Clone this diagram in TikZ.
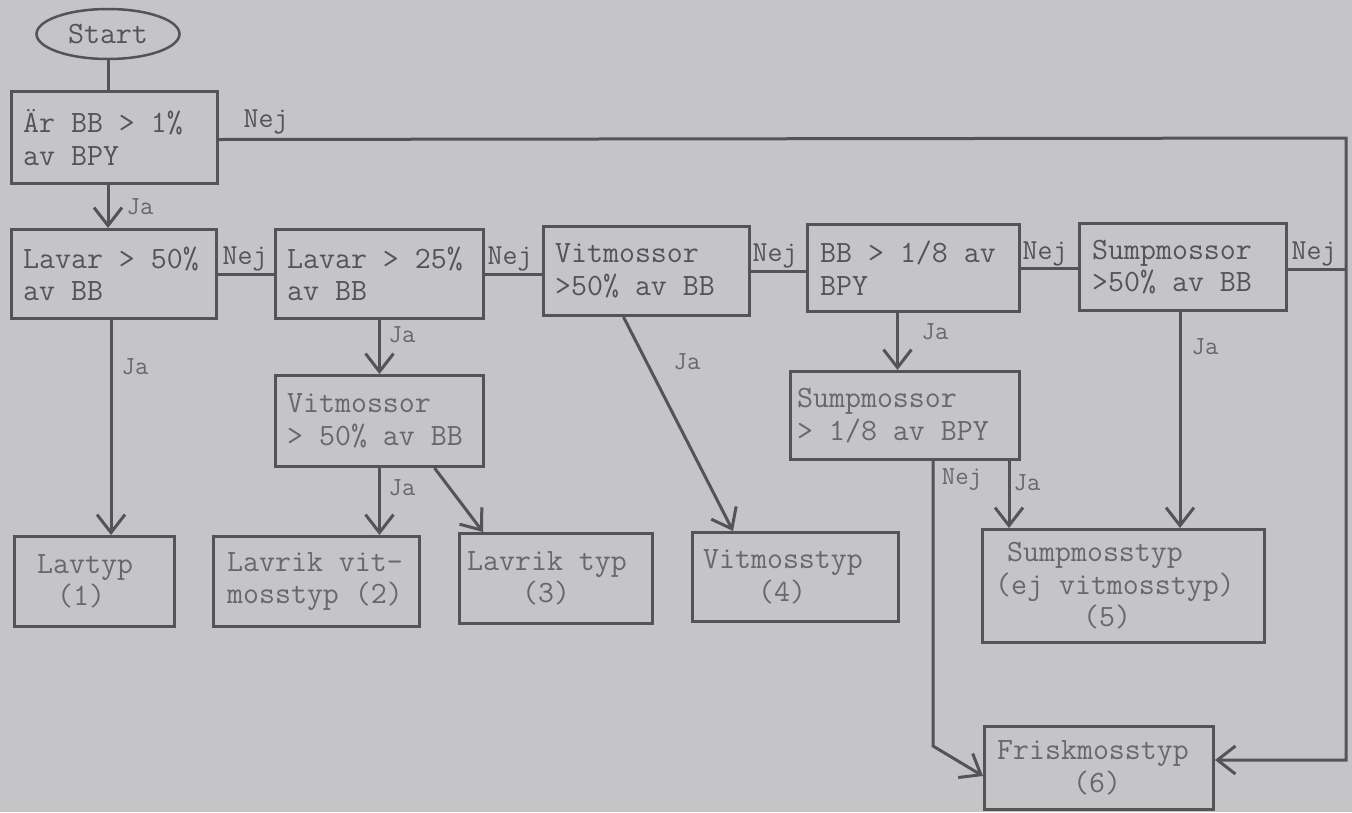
\documentclass[tikz,border=0pt]{standalone}
\usepackage{fontspec}
\usetikzlibrary{arrows.meta,shapes.geometric,calc}
\definecolor{bgc}{RGB}{197,197,199}
\definecolor{ink}{RGB}{84,84,86}
\definecolor{inkl}{RGB}{104,104,106}
\begin{document}
\begin{tikzpicture}[x=1pt,y=-1pt,
  box/.style={draw=ink, line width=3pt, rectangle, inner sep=0pt, anchor=north west},
  txt/.style={text=ink, inner sep=0pt, align=left, font=\ttfamily\fontsize{31}{32.5}\selectfont, anchor=west},
  txtl/.style={txt, text=inkl},
  lbl/.style={text=ink, inner sep=0pt, font=\ttfamily\fontsize{29}{30}\selectfont},
  ja/.style={text=inkl, inner sep=0pt, font=\ttfamily\fontsize{26}{26}\selectfont},
  conn/.style={draw=ink, line width=3pt},
  arr/.style={conn, -{Straight Barb[length=18pt,width=28pt]}}
]
\fill[bgc] (0,0) rectangle (1352,812);
\path[use as bounding box] (0,0) rectangle (1352,812);

\node[draw=ink, line width=2.5pt, ellipse, minimum width=143pt, minimum height=50pt, inner sep=0pt, text=ink, font=\ttfamily\fontsize{31}{32}\selectfont] (start) at (108,34) {Start};

\node[box, minimum width=206pt, minimum height=92pt] (b1) at (10,90) {};
\node[box, minimum width=205pt, minimum height=89pt] (b2) at (10,228) {};
\node[box, minimum width=208pt, minimum height=89pt] (b3) at (274,228) {};
\node[box, minimum width=206pt, minimum height=89pt] (b4) at (542,225) {};
\node[box, minimum width=212pt, minimum height=87pt] (b5) at (806,223) {};
\node[box, minimum width=207pt, minimum height=87pt] (b6) at (1078,222) {};
\node[box, minimum width=208pt, minimum height=91pt] (b7) at (274,374) {};
\node[box, minimum width=229pt, minimum height=88pt] (b8) at (789,370) {};
\node[box, minimum width=160pt, minimum height=90pt] (t1) at (13,535) {};
\node[box, minimum width=206pt, minimum height=90pt] (t2) at (212,535) {};
\node[box, minimum width=193pt, minimum height=90pt] (t3) at (458,532) {};
\node[box, minimum width=206pt, minimum height=89pt] (t4) at (691,531) {};
\node[box, minimum width=282pt, minimum height=113pt] (t5) at (981,528) {};
\node[box, minimum width=229pt, minimum height=83pt] (t6) at (983,725) {};

\node[txt] (b1x) at ([xshift=13pt]b1.west) {Är BB > 1\%\\av BPY};
\node[txt] (b2x) at ([xshift=13pt]b2.west) {Lavar > 50\%\\av BB};
\node[txt] (b3x) at ([xshift=13pt]b3.west) {Lavar > 25\%\\av BB};
\node[txt] (b4x) at ([xshift=13pt]b4.west) {Vitmossor\\>50\% av BB};
\node[txt] (b5x) at ([xshift=14pt]b5.west) {BB > 1/8 av\\BPY};
\node[txt] (b6x) at ([xshift=14pt]b6.west) {Sumpmossor\\>50\% av BB};
\node[txtl] (b7x) at ([xshift=13pt]b7.west) {Vitmossor\\> 50\% av BB};
\node[txtl] (b8x) at ([xshift=8pt]b8.west) {Sumpmossor\\> 1/8 av BPY};
\node[txtl] (t1x) at ([xshift=24pt]t1.west) {Lavtyp\\\hspace*{20pt}(1)};
\node[txtl] (t2x) at ([xshift=15pt]t2.west) {Lavrik vit-\\mosstyp (2)};
\node[txtl] (t3x) at ([xshift=9pt]t3.west) {Lavrik typ\\\hspace*{55pt}(3)};
\node[txtl] (t4x) at ([xshift=12pt]t4.west) {Vitmosstyp\\\hspace*{55pt}(4)};
\node[txtl] (t5x) at ([xshift=14pt]t5.west) {\hspace*{12pt}Sumpmosstyp\\(ej vitmosstyp)\\\hspace*{88pt}(5)};
\node[txtl] (t6x) at ([xshift=14pt]t6.west) {Friskmosstyp\\\hspace*{76pt}(6)};

\coordinate (R) at (1346,138);
\coordinate (t6in) at ([yshift=8pt]t6.east);
\coordinate (t6w) at ([yshift=-8pt]t6.west);

\draw[conn] (start.south) -- (start.south |- b1.north);
\draw[arr] (start.south |- b1.south) -- (start.south |- b2.north);
\node[ja] (j1) at (140,207) {Ja};
\draw[arr] ([yshift=-2pt]b1.east) -- (R) -- (R |- t6in) -- (t6in);
\node[lbl] (n1) at (266,122) {Nej};

\draw[conn] (b2.east) -- (b3.west);
\node[lbl] (n2) at (245,259) {Nej};
\draw[conn] (b3.east) -- (b3.east -| b4.west);
\node[lbl] (n3) at (510,259) {Nej};
\draw[conn] (b4.east) -- (b4.east -| b5.west);
\node[lbl] (n4) at (775,256) {Nej};
\draw[conn] (b5.east) -- (b5.east -| b6.west);
\node[lbl] (n5) at (1045,254) {Nej};
\draw[conn] ([yshift=-2pt]b6.east) -- ([yshift=-2pt]b6.east -| R);
\node[lbl] (n6) at (1314,254) {Nej};

\draw[arr] ([xshift=-3pt]b2.south) -- ([xshift=-3pt]b2.south |- t1.north);
\node[ja] (j2) at (135,367) {Ja};
\draw[arr] (b3.south) -- (b7.north);
\node[ja] (j3) at (402,335) {Ja};
\draw[arr] (b7.south) -- (b7.south |- t2.north);
\node[ja] (j4) at (402,488) {Ja};
\draw[arr] ([xshift=55pt]b7.south) -- ([xshift=25pt]t3.north west);
\draw[arr] ([xshift=-23pt]b4.south) -- ([xshift=42pt]t4.north west);
\node[ja] (j5) at (687,362) {Ja};
\draw[arr] ([xshift=-16pt]b5.south) -- ([xshift=-16pt]b5.south |- b8.north);
\node[ja] (j6) at (935,332) {Ja};
\draw[arr] ([xshift=-3pt]b6.south) -- ([xshift=-3pt]b6.south |- t5.north);
\node[ja] (j7) at (1205,347) {Ja};
\draw[arr] ([xshift=-12pt]b8.south east) -- ([xshift=-12pt]b8.south east |- t5.north);
\node[ja] (j8) at (1027,483) {Ja};
\draw[arr] ([xshift=144pt]b8.south west) -- ++(0,285) -- (t6w);
\node[ja] (n7) at (962,480) {Nej};
\end{tikzpicture}
\end{document}
